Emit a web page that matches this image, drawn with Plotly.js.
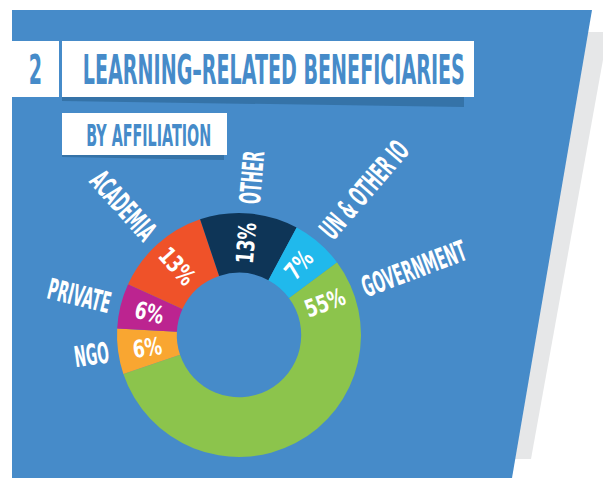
<!DOCTYPE html>
<html>
<head>
<meta charset="utf-8">
<script src="https://cdn.plot.ly/plotly-3.0.1.min.js"></script>
<style>
  html, body { margin: 0; padding: 0; background: #ffffff; }
  #chart { width: 603px; height: 478px; }
</style>
</head>
<body>
<div id="chart"></div>
<script>
// ---------------- data ----------------
const categories = ['GOVERNMENT', 'NGO', 'PRIVATE', 'ACADEMIA', 'OTHER', 'UN & OTHER IO'];
const shares = [55, 6, 6, 13, 13, 7];
const sliceColors = ['#8CC44C', '#F9A631', '#BC2490', '#EF5229', '#0E3557', '#20B9EC'];
const titleNumber = '2';
const titleText = 'LEARNING–RELATED BENEFICIARIES';
const subtitleText = 'BY AFFILIATION';

// ---------------- layout settings ----------------
const W = 603, H = 478;
const FONT = '"Liberation Sans Narrow", "Arial Narrow", "DejaVu Sans Condensed", sans-serif';
const WEIGHT = 'bold';
const BLUE = '#468BC9';
const DARKBLUE = '#3573A8';
const GREY = '#E6E7E8';
const DONUT = { cx: 239, cy: 335, r: 122, hole: 0.51, rotation: 53.4 };
const TITLE_SIZE = 40, SUB_SIZE = 30, LABEL_SIZE = 29, PCT_SIZE = 24;
const TITLE_TARGET_W = 382;  // width of the title line in the design
const LABEL_GAP = 10;
const PCT_SQUEEZE = 0.8;
const GOV_OFFSET = 16; // GOVERNMENT label and value sit near the start of its slice

const X = px => px / W;
const Y = py => 1 - py / H;
const path = pts => 'M' + pts.map(p => X(p[0]) + ',' + Y(p[1])).join(' L') + ' Z';

const ctx = document.createElement('canvas').getContext('2d');
function textW(t, size) { ctx.font = WEIGHT + ' ' + size + 'px ' + FONT; return ctx.measureText(t).width; }
const SQUEEZE = Math.min(1, TITLE_TARGET_W / textW(titleText, TITLE_SIZE));

const shapes = [
  { type: 'path', xref: 'paper', yref: 'paper', layer: 'below', line: { width: 0 }, fillcolor: GREY,
    path: path([[585, 32], [608, 32], [531, 459], [505, 459]]) },
  { type: 'path', xref: 'paper', yref: 'paper', layer: 'below', line: { width: 0 }, fillcolor: BLUE,
    path: path([[12, 10], [592, 10], [512, 478], [12, 478]]) },
  { type: 'path', xref: 'paper', yref: 'paper', layer: 'below', line: { width: 0 }, fillcolor: DARKBLUE,
    path: path([[62, 96], [464, 96], [464, 107], [62, 101]]) },
  { type: 'rect', xref: 'paper', yref: 'paper', layer: 'below', line: { width: 0 }, fillcolor: '#ffffff',
    x0: X(11), x1: X(59), y0: Y(97), y1: Y(41) },
  { type: 'rect', xref: 'paper', yref: 'paper', layer: 'below', line: { width: 0 }, fillcolor: '#ffffff',
    x0: X(62), x1: X(474), y0: Y(97), y1: Y(41) },
  { type: 'path', xref: 'paper', yref: 'paper', layer: 'below', line: { width: 0 }, fillcolor: DARKBLUE,
    path: path([[62, 154], [224, 154], [224, 160], [62, 157]]) },
  { type: 'rect', xref: 'paper', yref: 'paper', layer: 'below', line: { width: 0 }, fillcolor: '#ffffff',
    x0: X(62), x1: X(227), y0: Y(155), y1: Y(113) }
];

const annotations = [];
const squeezes = [];
function addText(text, px, py, size, color, angle, sq) {
  annotations.push({ text: text, x: X(px), y: Y(py), xref: 'paper', yref: 'paper', showarrow: false,
    xanchor: 'center', yanchor: 'middle', textangle: angle || 0,
    font: { family: FONT, size: size, color: color, weight: WEIGHT } });
  squeezes.push(sq);
}
addText(titleNumber, 35, 70, TITLE_SIZE, BLUE, 0, SQUEEZE);
addText(titleText, 274, 70, TITLE_SIZE, BLUE, 0, SQUEEZE);
addText(subtitleText, 148, 135, SUB_SIZE, BLUE, 0, SQUEEZE);

function radialAngle(theta) {
  let a = theta - 90;
  while (a > 180) a -= 360;
  while (a <= -180) a += 360;
  if (a > 90) a -= 180;
  if (a < -90) a += 180;
  return a;
}

// category names outside the ring and values inside it, both radial
const total = shares.reduce((a, b) => a + b, 0);
let start = DONUT.rotation;
categories.forEach((name, i) => {
  const span = shares[i] / total * 360;
  let theta = start + span / 2;
  if (name === 'GOVERNMENT') theta = start + GOV_OFFSET;
  start += span;
  const t = theta * Math.PI / 180;
  const ang = radialAngle(theta);
  // name
  const w = textW(name, LABEL_SIZE) * SQUEEZE;
  const rc = DONUT.r + LABEL_GAP + w / 2;
  addText(name, DONUT.cx + rc * Math.sin(t), DONUT.cy - rc * Math.cos(t), LABEL_SIZE, '#ffffff', ang, SQUEEZE);
  // value
  const rm = DONUT.r * (1 + DONUT.hole) / 2;
  addText(shares[i] + '%', DONUT.cx + rm * Math.sin(t), DONUT.cy - rm * Math.cos(t), PCT_SIZE, '#ffffff', ang, PCT_SQUEEZE);
});

const trace = {
  type: 'pie',
  labels: categories,
  values: shares,
  sort: false,
  direction: 'clockwise',
  rotation: DONUT.rotation,
  hole: DONUT.hole,
  marker: { colors: sliceColors, line: { width: 0 } },
  textinfo: 'none',
  hoverinfo: 'none',
  domain: {
    x: [X(DONUT.cx - DONUT.r), X(DONUT.cx + DONUT.r)],
    y: [Y(DONUT.cy + DONUT.r), Y(DONUT.cy - DONUT.r)]
  }
};

const layout = {
  width: W, height: H,
  margin: { l: 0, r: 0, t: 0, b: 0, pad: 0 },
  paper_bgcolor: '#ffffff',
  showlegend: false,
  shapes: shapes,
  annotations: annotations
};

function squeeze(el, s) {
  const bb = el.getBBox();
  const cx = bb.x + bb.width / 2, cy = bb.y + bb.height / 2;
  const old = el.getAttribute('transform') || '';
  el.setAttribute('transform', old + ' translate(' + cx + ',' + cy + ') scale(' + s + ',1) translate(' + (-cx) + ',' + (-cy) + ')');
}

Plotly.newPlot('chart', [trace], layout, { displayModeBar: false, staticPlot: true }).then(gd => {
  gd.querySelectorAll('.annotation').forEach(g => {
    const idx = +g.getAttribute('data-index');
    const txt = g.querySelector('.annotation-text');
    if (txt && squeezes[idx] < 1) squeeze(txt, squeezes[idx]);
  });
});
</script>
</body>
</html>
